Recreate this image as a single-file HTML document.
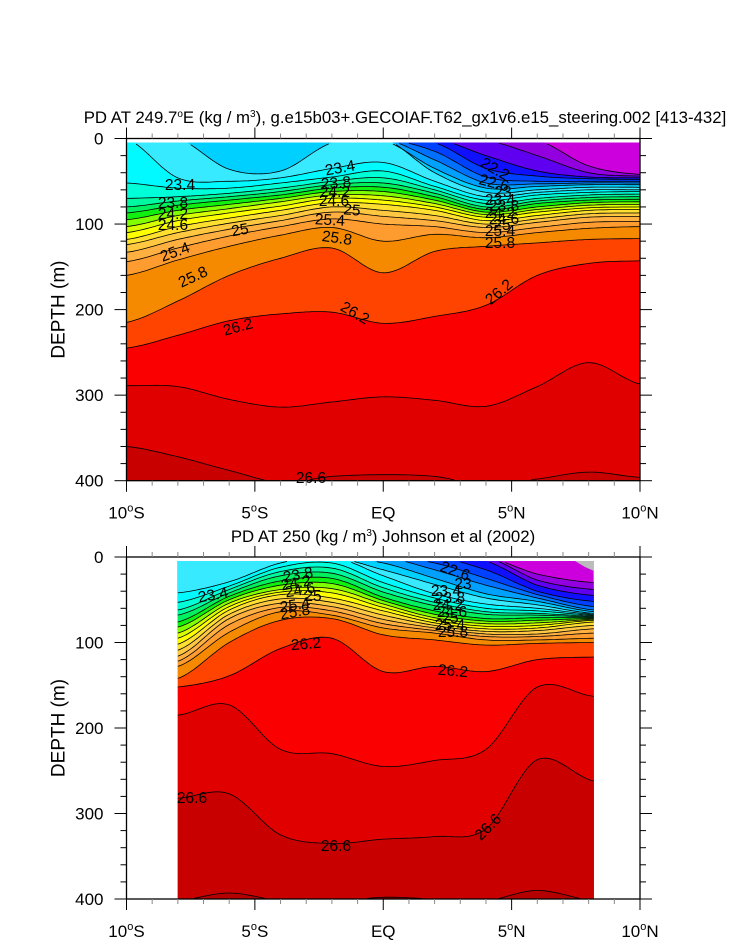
<!DOCTYPE html>
<html><head><meta charset="utf-8">
<style>
html,body{margin:0;padding:0;background:#fff;}
svg{display:block;font-family:"Liberation Sans",Arial,sans-serif;}
</style></head>
<body>
<svg id="chart" width="733" height="945" viewBox="0 0 733 945" xmlns="http://www.w3.org/2000/svg">
<rect x="0" y="0" width="733" height="945" fill="#fff"/>
<g id="top"></g>
<g id="bot"></g>
</svg>
<script>
// ---- data ----
const levels = [21.8,22.0,22.2,22.4,22.6,22.8,23.0,23.2,23.4,23.6,23.8,24.0,24.2,24.4,24.6,24.8,25.0,25.2,25.4,25.6,25.8,26.0,26.2,26.4,26.6,26.8];
const bandColors = ['#9200E0','#6000F0','#1010FF','#0040FF','#0070FF','#00A0FF','#00D0FF','#38EAFF','#00FAFF','#00FFD8','#00F8A0','#00F060','#10F010','#80FF00','#D8FF00','#FFFF00','#FFE030','#FFC840','#FFB040','#FF9C30','#F58A00','#FF4400','#FA0000','#E00000','#C80000','#B40000'];
const surfaceColor = '#CC00DD';
const latTicks = [-10,-5,0,5,10];
const latTickLabels = ['10','5','EQ','5','10'];
const depthTicks = [0,100,200,300,400];

// model section (top): isopycnal depths (m) at latitudes
const topLats = [-10,-8,-6,-4,-2,0,2,4,6,8,10];
const topDepths = {
 21.8:[0,0,0,0,0,0,0,0,2,32,42],
 22.0:[0,0,0,0,0,0,0,2,20,40,44],
 22.2:[0,0,0,0,0,0,0,20,38,45,46],
 22.4:[0,0,0,0,0,0,5,35,44,47,48],
 22.6:[0,0,0,0,0,0,15,45,50,50,50],
 22.8:[0,0,0,0,0,0,25,52,53,52,52],
 23.0:[0,0,0,0,0,2,35,58,56,54,54],
 23.2:[0,0,36,38,5,0,40,63,60,57,57],
 23.4:[0,46,50,46,35,28,50,68,63,60,60],
 23.6:[52,58,58,52,45,38,56,72,66,63,62],
 23.8:[70,68,64,58,50,46,60,76,70,66,65],
 24.0:[80,73,68,62,54,52,64,80,73,69,68],
 24.2:[87,78,72,66,58,57,68,83,76,72,71],
 24.4:[95,84,77,70,62,62,72,86,80,75,74],
 24.6:[103,90,82,74,66,67,76,89,83,78,77],
 24.8:[110,96,87,79,70,72,80,92,86,81,80],
 25.0:[118,103,93,84,75,77,84,96,90,84,83],
 25.2:[124,110,99,90,80,84,90,100,94,88,87],
 25.4:[133,118,106,96,86,91,96,104,98,92,91],
 25.6:[144,128,114,103,94,100,103,110,104,98,97],
 25.8:[160,142,126,113,104,120,112,116,110,105,103],
 26.0:[215,190,160,140,128,157,132,126,122,118,117],
 26.2:[245,230,213,205,203,216,208,195,160,146,143],
 26.4:[289,290,305,314,308,302,306,313,290,262,287],
 26.6:[360,372,388,402,395,393,395,405,398,390,396]
};
// observed section (bottom)
const botLats = [-8,-6,-4,-2,0,2,4,6,8.2];
const botDepths = {
 21.8:[0,0,0,0,0,0,0,20,30],
 22.0:[0,0,0,0,0,0,0,27,38],
 22.2:[0,0,0,0,0,0,5,33,45],
 22.4:[0,0,0,0,0,0,15,40,52],
 22.6:[0,0,0,0,0,7,25,44,58],
 22.8:[0,0,0,0,0,15,33,48,62],
 23.0:[0,0,0,0,7,25,43,52,64],
 23.2:[0,0,0,0,15,32,48,56,66],
 23.4:[42,29,7,0,22,43,55,60,67],
 23.6:[53,34,12,7,30,48,60,63,68],
 23.8:[62,38,17,13,36,53,64,66,69],
 24.0:[68,42,22,19,41,57,67,68,70],
 24.2:[76,46,28,25,47,63,72,71,71],
 24.4:[82,50,33,31,51,67,75,74,72],
 24.6:[89,54,38,37,55,71,78,77,73],
 24.8:[95,58,41,42,59,74,81,80,74],
 25.0:[102,62,44,48,63,77,84,83,76],
 25.2:[109,67,49,53,68,80,87,86,80],
 25.4:[116,72,54,58,73,83,90,90,84],
 25.6:[122,79,59,63,78,86,93,93,89],
 25.8:[128,88,64,68,83,89,97,97,95],
 26.0:[142,100,74,72,91,97,103,101,100],
 26.2:[152,139,107,95,134,128,134,120,117],
 26.4:[185,173,225,230,245,238,225,152,163],
 26.6:[282,277,325,335,330,327,318,237,262],
 26.8:[402,393,402,403,398,400,402,390,402]
};
const topLabels = [
 ['23.4',180,185,0],['23.8',173,203,0],['24.2',173,214,0],['24.6',173,225,0],['25',240,230,-10],
 ['25.4',175,252,-20],['25.8',193,277,-25],['26.2',238,327,-15],['26.6',311,478,0],
 ['23.4',340,168,-10],['23.8',336,183,-5],['24.2',335,192,0],['24.6',334,201,0],['25',352,210,5],
 ['25.4',330,220,3],['25.8',337,238,8],['26.2',355,313,30],['26.2',499,292,-40],
 ['22.2',495,169,30],['22.6',494,183,15],['23',503,192,0],['23.4',500,200,0],['23.8',504,206,0],
 ['24.2',500,213,0],['24.6',504,219,0],['25',502,225,0],['25.4',500,231,0],['25.8',500,243,0]
];
const botLabels = [
 ['23.4',213,595,-10],['23.8',298,575,-10],['24.2',296,583,-10],['24.6',300,590,-10],['25',313,596,0],
 ['25.4',295,605,-10],['25.8',295,612,-10],['26.2',306,644,-5],['26.2',453,671,5],
 ['22.6',455,571,20],['23',463,584,0],['23.4',446,591,0],['23.8',450,598,0],['24.2',448,605,0],
 ['24.6',452,612,0],['25',450,618,0],['25.4',450,625,0],['25.8',453,632,0],
 ['26.6',192,798,0],['26.6',336,846,0],['26.6',488,827,-45]
];

// ---- drawing ----
const NS='http://www.w3.org/2000/svg';
function mk(tag,attrs,parent){const e=document.createElementNS(NS,tag);for(const k in attrs)e.setAttribute(k,attrs[k]);parent.appendChild(e);return e;}

function sampleCurve(lats,vals){
  const pts=[];const n=lats.length;
  for(let i=0;i<n-1;i++){
    const p0=vals[Math.max(0,i-1)],p1=vals[i],p2=vals[i+1],p3=vals[Math.min(n-1,i+2)];
    for(let s=0;s<16;s++){
      const t=s/16,t2=t*t,t3=t2*t;
      const v=0.5*((2*p1)+(-p0+p2)*t+(2*p0-5*p1+4*p2-p3)*t2+(-p0+3*p1-3*p2+p3)*t3);
      pts.push([lats[i]+(lats[i+1]-lats[i])*t,v]);
    }
  }
  pts.push([lats[n-1],vals[n-1]]);
  return pts;
}

function drawPanel(g,cfg){
  const x=l=>cfg.x0+(l+10)/20*(cfg.x1-cfg.x0);
  const y=d=>cfg.y0+d/400*(cfg.y1-cfg.y0);
  const dTop=4.7;
  const clipId='clip-'+cfg.id;
  const defs=mk('defs',{},g);
  const cp=mk('clipPath',{id:clipId},defs);
  mk('rect',{x:x(cfg.lats[0]),y:y(dTop),width:x(cfg.lats[cfg.lats.length-1])-x(cfg.lats[0]),height:y(400)-y(dTop)},cp);
  const fg=mk('g',{'clip-path':'url(#'+clipId+')'},g);
  
  
  const bg=mk('rect',{x:x(cfg.lats[0]),y:y(dTop),width:x(cfg.lats[cfg.lats.length-1])-x(cfg.lats[0]),height:y(400)-y(dTop),fill:surfaceColor},fg);
  
  
  const lg=mk('g',{fill:'none',stroke:'#000','stroke-width':0.8},g);
  
  
  levels.forEach((lev,i)=>{
    const key=lev.toFixed(1);
    const arr=cfg.depths[lev]; if(!arr) return;
    const pts=sampleCurve(cfg.lats,arr);
    let d='';
    pts.forEach((p,j)=>{const dd=Math.min(401,Math.max(dTop-1,p[1]));d+=(j?'L':'M')+x(p[0]).toFixed(1)+','+y(dd).toFixed(1);});
    d+='L'+x(cfg.lats[cfg.lats.length-1])+','+y(402)+'L'+x(cfg.lats[0])+','+y(402)+'Z';
    const band=mk('path',{d:d,fill:bandColors[i],stroke:bandColors[i],'stroke-width':0.3},fg);
    
    
    let ld='',pen=false;
    pts.forEach(p=>{
      if(p[1]>dTop+0.5&&p[1]<399.5){ld+=(pen?'L':'M')+x(p[0]).toFixed(1)+','+y(p[1]).toFixed(1);pen=true;} else pen=false;
    });
    if(ld){const line=mk('path',{d:ld},lg);
      
      }
  });
  if(cfg.id==='obs'){
    const gp=mk('path',{d:'M575,561L594,561L594,571L585,567Z',fill:'#bbbbbb'},fg);
    
    
  }
  // labels
  const tg=mk('g',{'font-size':'15.5','text-anchor':'middle'},g);
  
  
  cfg.labels.forEach(L=>{
    const t=mk('text',{x:L[1],y:L[2]+5,transform:'rotate('+L[3]+' '+L[1]+' '+L[2]+')'},tg);
    t.textContent=L[0];
    
    
  });
  // frame
  const fr=mk('rect',{x:cfg.x0,y:cfg.y0,width:cfg.x1-cfg.x0,height:cfg.y1-cfg.y0,fill:'none',stroke:'#000','stroke-width':1.3},g);
  
  
  const ax=mk('g',{stroke:'#000','stroke-width':1},g);
  
  
  for(let l=-10;l<=10;l++){
    const major=l%5===0, len=major?11:5, xx=x(l);
    mk('line',{x1:xx,y1:cfg.y0,x2:xx,y2:cfg.y0-len,stroke:major?'#000':'#888'},ax);
    mk('line',{x1:xx,y1:cfg.y1,x2:xx,y2:cfg.y1+len,stroke:major?'#000':'#888'},ax);
  }
  for(let dd=0;dd<=400;dd+=20){
    const major=dd%100===0,len=major?12:6,yy=y(dd);
    mk('line',{x1:cfg.x0,y1:yy,x2:cfg.x0-len,y2:yy},ax);
    mk('line',{x1:cfg.x1,y1:yy,x2:cfg.x1+len,y2:yy},ax);
  }
  const tx=mk('g',{'font-size':'17'},g);
  
  
  depthTicks.forEach(dd=>{
    const t=mk('text',{x:cfg.x0-23,y:y(dd)+6,'text-anchor':'end'},tx);t.textContent=dd;
    
    
  });
  latTicks.forEach((l,i)=>{
    const t=mk('text',{x:x(l),y:cfg.y1+38,'text-anchor':'middle'},tx);
    
    
    if(l===0){t.textContent='EQ';}
    else{
      t.appendChild(document.createTextNode(latTickLabels[i]));
      const s=mk('tspan',{'font-size':'11',dy:'-7'},t);s.textContent='o';
      const h=mk('tspan',{dy:'7'},t);h.textContent=l<0?'S':'N';
    }
  });
  const yt=mk('text',{x:0,y:0,'font-size':'19','text-anchor':'middle',transform:'translate('+(cfg.x0-62)+','+((cfg.y0+cfg.y1)/2)+') rotate(-90)'},g);
  yt.textContent='DEPTH (m)';
  
  
}

drawPanel(document.getElementById('top'),{id:'model',x0:126.5,x1:640,y0:138.5,y1:480.7,lats:topLats,depths:topDepths,labels:topLabels});
drawPanel(document.getElementById('bot'),{id:'obs',x0:126.5,x1:640,y0:557,y1:899,lats:botLats,depths:botDepths,labels:botLabels});

const svg=document.getElementById('chart');
const t1=mk('text',{x:405,y:123,'font-size':'16.8','text-anchor':'middle'},svg);


t1.innerHTML='PD AT 249.7<tspan font-size="10" dy="-6">o</tspan><tspan dy="6">E (kg / m</tspan><tspan font-size="10" dy="-6">3</tspan><tspan dy="6">), g.e15b03+.GECOIAF.T62_gx1v6.e15_steering.002 [413-432]</tspan>';
const t2=mk('text',{x:383,y:542,'font-size':'16.8','text-anchor':'middle'},svg);


t2.innerHTML='PD AT 250 (kg / m<tspan font-size="10" dy="-6">3</tspan><tspan dy="6">) Johnson et al (2002)</tspan>';
</script>
</body></html>
